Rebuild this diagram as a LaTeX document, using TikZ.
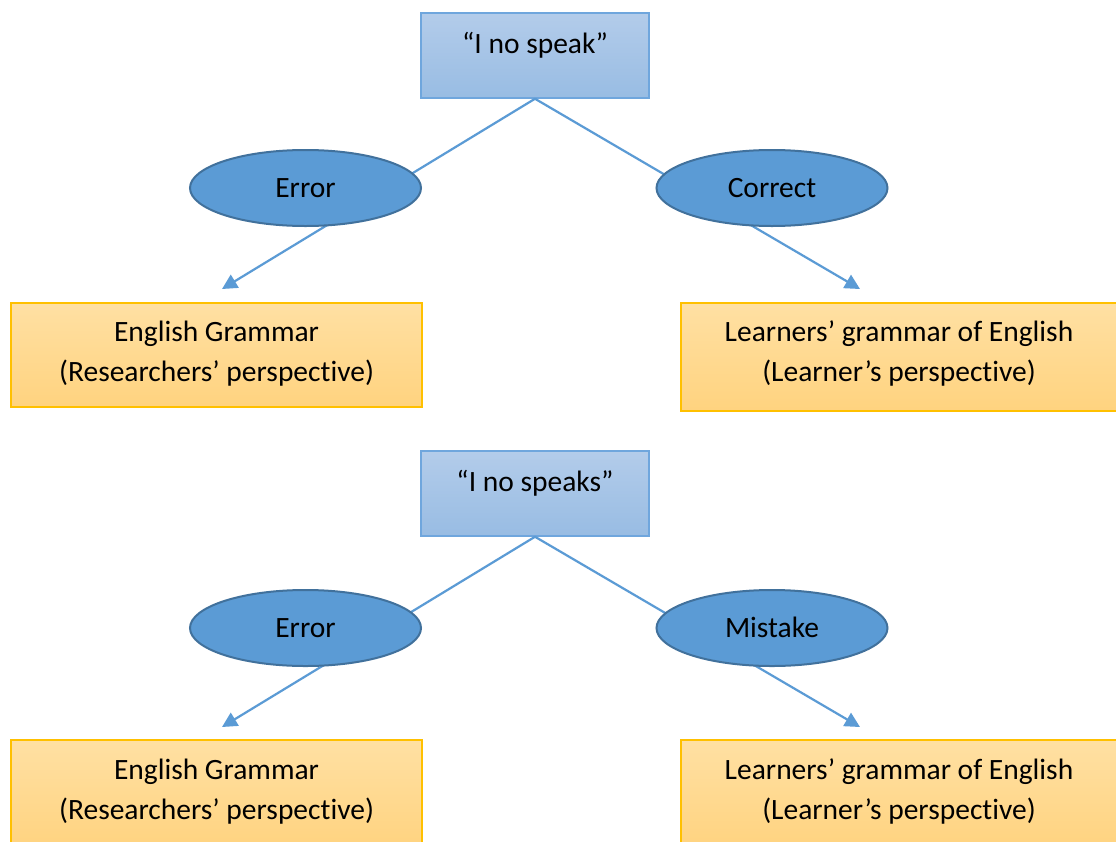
\documentclass[tikz,border=0pt]{standalone}
\usepackage{fontspec}
\setmainfont{Carlito}[Ligatures=NoCommon]
\usetikzlibrary{arrows.meta,shapes.geometric}
\definecolor{ellfill}{HTML}{5B9BD5}
\definecolor{elldraw}{HTML}{41719C}
\definecolor{linec}{HTML}{5B9BD5}
\definecolor{bluetop}{HTML}{B3CCEA}
\definecolor{bluebot}{HTML}{98BCE3}
\definecolor{blueedge}{HTML}{6FA6DD}
\definecolor{orgtop}{HTML}{FFE0A3}
\definecolor{orgbot}{HTML}{FFD37F}
\definecolor{orgedge}{HTML}{FFC000}
\tikzset{
  x=1pt, y=-1pt,
  every node/.style={font=\fontsize{29.5}{40}\selectfont, text=black},
  qbox/.style={rectangle, draw=blueedge, line width=1.5pt, top color=bluetop, bottom color=bluebot, minimum width=228pt, minimum height=85pt, inner sep=0pt},
  oval/.style={ellipse, draw=elldraw, line width=2pt, fill=ellfill, minimum width=231pt, minimum height=76pt, inner sep=0pt},
  obox/.style={rectangle, draw=orgedge, line width=1.5pt, top color=orgtop, bottom color=orgbot, align=center, inner sep=0pt},
  conn/.style={draw=linec, line width=2.2pt, -{Triangle[length=15pt,width=15pt]}},
  lbl/.style={inner sep=0pt, anchor=base}
}
\begin{document}
\begin{tikzpicture}
\useasboundingbox (0,0) rectangle (1116,841);
\fill[white] (0,0) rectangle (1116,841);
% ---------- upper tree ----------
\node[qbox] (q1) at (535,55.5) {};
\node[lbl] (q1t) at (535,53) {“I no speak”};
\coordinate (t1l) at (222,289);
\coordinate (t1r) at (860,289);
\draw[conn] (q1.south) -- (t1l);
\draw[conn] (q1.south) -- (t1r);
\node[oval] (e1) at (305.5,188) {};
\node[lbl] (e1t) at (305.5,197) {Error};
\node[oval] (c1) at (772,188) {};
\node[lbl] (c1t) at (772,197) {Correct};
\node[obox, minimum width=411pt, minimum height=104pt] (g1) at (216.5,355) {};
\node[lbl] (g1a) at (216.5,341) {English Grammar};
\node[lbl] (g1b) at (216.5,381) {(Researchers’ perspective)};
\node[obox, minimum width=440pt, minimum height=108pt] (l1) at (901,357) {};
\node[lbl] (l1a) at (899,341) {Learners’ grammar of English};
\node[lbl] (l1b) at (899,381) {(Learner’s perspective)};
% ---------- lower tree ----------
\node[qbox] (q2) at (535,493.5) {};
\node[lbl] (q2t) at (535,491) {“I no speaks”};
\coordinate (t2l) at (222,727);
\coordinate (t2r) at (860,727);
\draw[conn] (q2.south) -- (t2l);
\draw[conn] (q2.south) -- (t2r);
\node[oval] (e2) at (305.5,628) {};
\node[lbl] (e2t) at (305.5,637) {Error};
\node[oval] (m2) at (772,628) {};
\node[lbl] (m2t) at (772,637) {Mistake};
\node[obox, minimum width=411pt, minimum height=110pt] (g2) at (216.5,795) {};
\node[lbl] (g2a) at (216.5,779) {English Grammar};
\node[lbl] (g2b) at (216.5,819) {(Researchers’ perspective)};
\node[obox, minimum width=440pt, minimum height=110pt] (l2) at (901,795) {};
\node[lbl] (l2a) at (899,779) {Learners’ grammar of English};
\node[lbl] (l2b) at (899,819) {(Learner’s perspective)};
\end{tikzpicture}
\end{document}
